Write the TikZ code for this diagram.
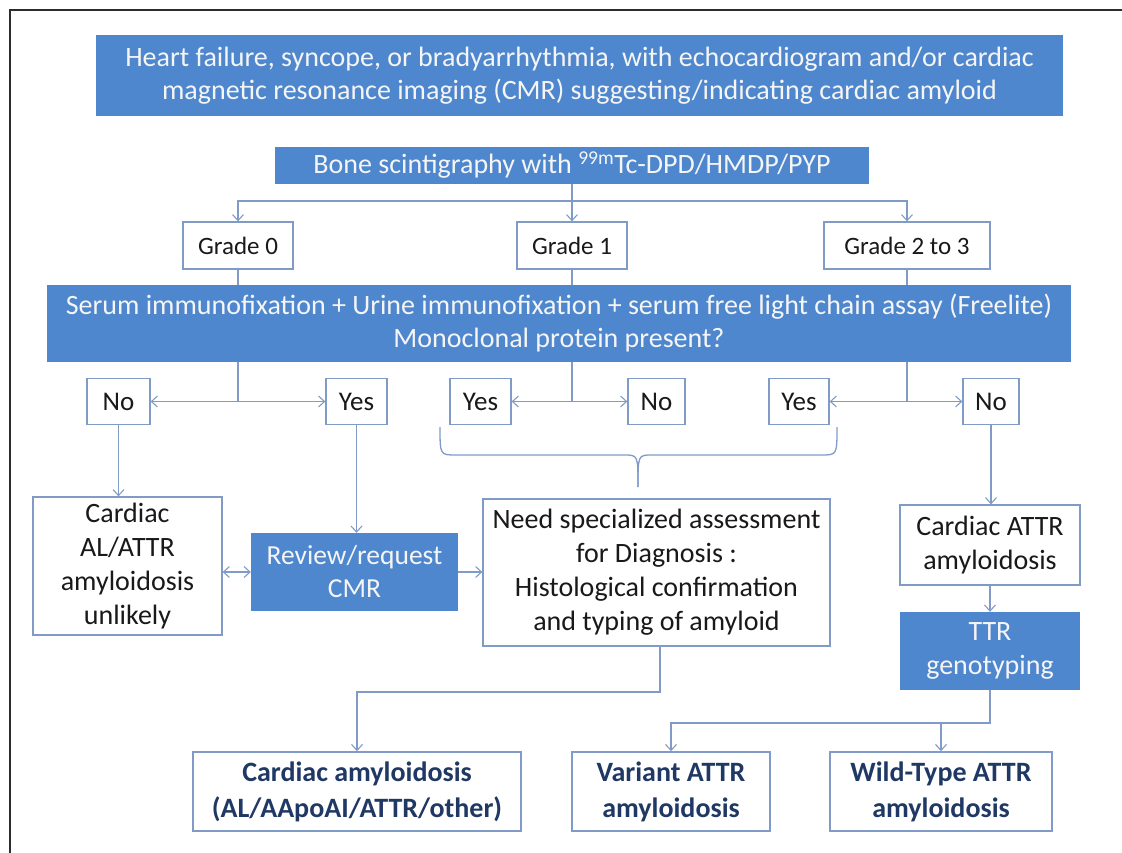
\documentclass[tikz,border=0pt]{standalone}
\usepackage{fontspec}
\setmainfont{Carlito}
\usetikzlibrary{arrows.meta}
\definecolor{bluefill}{RGB}{78,135,205}
\definecolor{boxline}{RGB}{128,156,198}
\definecolor{connc}{RGB}{128,156,198}
\definecolor{navytext}{RGB}{31,56,100}
\definecolor{framec}{RGB}{45,45,45}
\definecolor{paletext}{RGB}{245,245,245}
\newcommand\fsz[2]{\fontsize{#1}{#2}\selectfont}
\tikzset{
  bluebox/.style={fill=bluefill, draw=none, text=paletext, align=center, inner sep=0pt},
  whitebox/.style={fill=white, draw=boxline, line width=1.3pt, text=black!90, align=center, inner sep=0pt},
  endbox/.style={fill=white, draw=boxline, line width=1.6pt, text=navytext, align=center, inner sep=0pt},
  conn/.style={draw=connc, line width=1.3pt},
  arr/.tip={Straight Barb[length=6pt,width=11pt,line width=1.1pt]},
  framestyle/.style={draw=framec, line width=2.4pt}
}
\begin{document}
\begin{tikzpicture}[x=1pt,y=-1pt]
\useasboundingbox (0,0) rectangle (1122,853);
\fill[white] (0,0) rectangle (1122,853);
\draw[framestyle] (10,853) -- (10,10) -- (1122,10);

% top boxes
\node[bluebox, minimum width=967pt, minimum height=81pt, font=\fsz{28}{33}] (top) at (579.5,75.5)
  {Heart failure, syncope, or bradyarrhythmia, with echocardiogram and/or cardiac\\magnetic resonance imaging (CMR) suggesting/indicating cardiac amyloid};
\node[bluebox, minimum width=594pt, minimum height=37pt, font=\fsz{28}{30}] (bone) at (572,165.5)
  {Bone scintigraphy with \textsuperscript{99m}Tc-DPD/HMDP/PYP};

% grades
\node[whitebox, minimum width=110pt, minimum height=47pt, font=\fsz{25}{28}] (g0) at (238,245.5) {Grade 0};
\node[whitebox, minimum width=110pt, minimum height=47pt, font=\fsz{25}{28}] (g1) at (572,245.5) {Grade 1};
\node[whitebox, minimum width=166pt, minimum height=47pt, font=\fsz{25}{28}] (g23) at (907,245.5) {Grade 2 to 3};

\coordinate (jb) at (572,201);
\draw[conn] (bone.south) -- (jb);
\draw[conn,-arr] (jb) -| (g0.north);
\draw[conn,-arr] (jb) -- (g1.north);
\draw[conn,-arr] (jb) -| (g23.north);

% serum box
\node[bluebox, minimum width=1024pt, minimum height=77pt, font=\fsz{28}{33}] (sife) at (559,323.5)
  {Serum immunofixation + Urine immunofixation + serum free light chain assay (Freelite)\\Monoclonal protein present?};
\draw[conn] (g0.south) -- (g0.south |- sife.north);
\draw[conn] (g1.south) -- (g1.south |- sife.north);
\draw[conn] (g23.south) -- (g23.south |- sife.north);

% yes/no row
\node[whitebox, minimum width=63pt, minimum height=46pt, font=\fsz{27}{30}] (no1) at (118.5,401.5) {No};
\node[whitebox, minimum width=61pt, minimum height=46pt, font=\fsz{27}{30}] (yes1) at (356.5,401.5) {Yes};
\node[whitebox, minimum width=61pt, minimum height=46pt, font=\fsz{27}{30}] (yes2) at (480.5,401.5) {Yes};
\node[whitebox, minimum width=57pt, minimum height=46pt, font=\fsz{27}{30}] (no2) at (656.5,401.5) {No};
\node[whitebox, minimum width=60pt, minimum height=46pt, font=\fsz{27}{30}] (yes3) at (799,401.5) {Yes};
\node[whitebox, minimum width=56pt, minimum height=46pt, font=\fsz{27}{30}] (no3) at (991,401.5) {No};

\coordinate (j0) at (238,401.5);
\coordinate (j1) at (572,401.5);
\coordinate (j2) at (907,401.5);
\draw[conn] (j0 |- sife.south) -- (j0);
\draw[conn] (j1 |- sife.south) -- (j1);
\draw[conn] (j2 |- sife.south) -- (j2);
\draw[conn,-arr] (j0) -- (no1.east);
\draw[conn,-arr] (j0) -- (yes1.west);
\draw[conn,-arr] (j1) -- (yes2.east);
\draw[conn,-arr] (j1) -- (no2.west);
\draw[conn,-arr] (j2) -- (yes3.east);
\draw[conn,-arr] (j2) -- (no3.west);

% brace
\coordinate (bl) at (440,427);
\coordinate (br) at (837,427);
\coordinate (bt) at (638,487);
\draw[conn] (bl) .. controls (440,455) .. (456,455) -- (624,455) .. controls (638,455) .. (bt);
\draw[conn] (br) .. controls (837,455) .. (821,455) -- (652,455) .. controls (638,455) .. (bt);

% middle row
\node[whitebox, minimum width=189pt, minimum height=138pt, font=\fsz{28}{34}] (cu) at (127.5,566)
  {Cardiac\\AL/ATTR\\amyloidosis\\unlikely};
\node[bluebox, minimum width=207pt, minimum height=78pt, font=\fsz{27.5}{33}] (rev) at (354.5,572)
  {Review/request\\CMR};
\node[whitebox, minimum width=347pt, minimum height=147pt, font=\fsz{28}{34}] (need) at (656.5,572.5)
  {Need specialized assessment\\for Diagnosis :\\Histological confirmation\\and typing of amyloid};
\node[whitebox, minimum width=180pt, minimum height=80pt, font=\fsz{28}{34}] (cattr) at (990,545)
  {Cardiac ATTR\\amyloidosis};
\node[bluebox, minimum width=180pt, minimum height=78pt, font=\fsz{28}{34}] (ttr) at (990,651)
  {TTR\\genotyping};

\draw[conn,-arr] (no1.south) -- (no1.south |- cu.north);
\draw[conn,-arr] (yes1.south) -- (yes1.south |- rev.north);
\draw[conn,arr-arr] (rev.west -| cu.east) -- (rev.west);
\draw[conn,-arr] (rev.east) -- (rev.east -| need.west);
\draw[conn,-arr] (no3.south) -- (no3.south |- cattr.north);
\draw[conn,-arr] (cattr.south) -- (ttr.north);

% bottom row
\node[endbox, minimum width=328pt, minimum height=79pt, font=\bfseries\fsz{28}{36}] (ca) at (357,791.5)
  {Cardiac amyloidosis\\(AL/AApoAI/ATTR/other)};
\node[endbox, minimum width=198pt, minimum height=79pt, font=\bfseries\fsz{28}{36}] (var) at (671,791.5)
  {Variant ATTR\\amyloidosis};
\node[endbox, minimum width=222pt, minimum height=79pt, font=\bfseries\fsz{28}{36}] (wild) at (941,791.5)
  {Wild-Type ATTR\\amyloidosis};

\coordinate (nb) at (660,692);
\draw[conn,-arr] (nb |- need.south) -- (nb) -| (ca.north);
\coordinate (tb) at (990,723);
\draw[conn,-arr] (tb |- ttr.south) -- (tb) -| (var.north);
\draw[conn,-arr] (wild.north |- tb) -- (wild.north);
\end{tikzpicture}
\end{document}
